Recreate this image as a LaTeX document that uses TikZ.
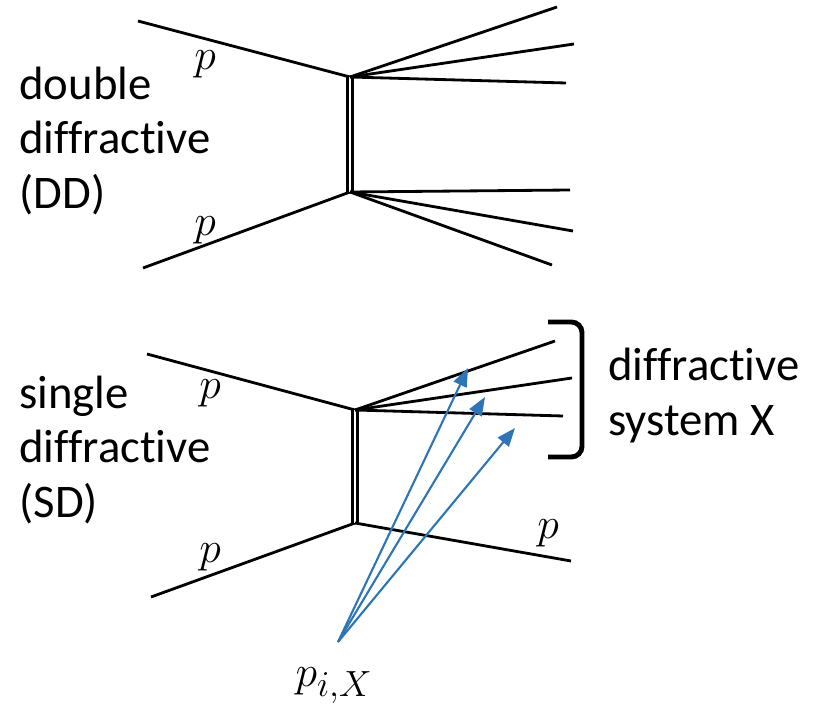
\documentclass[tikz,border=0pt]{standalone}
\usepackage{fontspec}
\setmainfont{Carlito}[Ligatures=NoCommon]
\usepackage{tikz}
\usetikzlibrary{arrows.meta}
\definecolor{momblue}{HTML}{2E75B6}

\begin{document}
\begin{tikzpicture}[x=0.02cm,y=-0.02cm,line width=1.6pt,
    lbl/.style={font=\fontsize{28}{32}\selectfont, inner sep=0pt},
    txt/.style={font=\fontsize{26.6}{31}\selectfont, align=left, inner sep=0pt, anchor=base west},
    pom/.style={double, double distance=1.7pt, line width=1.4pt},
    mom/.style={-{Triangle[length=10.5pt,width=8pt]}, draw=momblue, line width=1.2pt}]

  \useasboundingbox (0,0) rectangle (816,710);

  % double diffractive
  \coordinate (dtop) at (350,77);
  \coordinate (dbot) at (350,192);
  \coordinate (din1) at (138,21);
  \coordinate (din2) at (143,268);
  \coordinate (dx1) at (557,7);
  \coordinate (dx2) at (574,44);
  \coordinate (dx3) at (566,83);
  \coordinate (dy1) at (570,190);
  \coordinate (dy2) at (573,231);
  \coordinate (dy3) at (552,265);

  \draw (din1) -- (dtop);
  \draw (din2) -- (dbot);
  \draw[pom] (dtop) -- (dbot);
  \foreach \e in {dx1,dx2,dx3} \draw (dtop) -- (\e);
  \foreach \e in {dy1,dy2,dy3} \draw (dbot) -- (\e);

  \node[lbl] (dp1) at (205,64) {$p$};
  \node[lbl] (dp2) at (205,230) {$p$};
  \node[txt] (ddtext) at (18,208) {double\\diffractive\\(DD)};

  % single diffractive
  \coordinate (stop) at (355,410);
  \coordinate (sbot) at (355,523);
  \coordinate (sin1) at (147,354);
  \coordinate (sin2) at (151,597);
  \coordinate (sx1) at (555,341);
  \coordinate (sx2) at (572,378);
  \coordinate (sx3) at (563,416);
  \coordinate (sout) at (571,561);

  \draw (sin1) -- (stop);
  \draw (sin2) -- (sbot);
  \draw[pom] (stop) -- (sbot);
  \foreach \e in {sx1,sx2,sx3} \draw (stop) -- (\e);
  \draw (sbot) -- (sout);

  \node[lbl] (sp1) at (210,393) {$p$};
  \node[lbl] (sp2) at (210,557) {$p$};
  \node[lbl] (sp3) at (548,533) {$p$};
  \node[txt] (sdtext) at (18,517) {single\\diffractive\\(SD)};

  % system X
  \coordinate (bra1) at (548,322);
  \coordinate (bra2) at (548,457);
  \draw[line width=2.8pt, rounded corners=6pt] (bra1) -- (582,322) -- (582,457) -- (bra2);
  \node[txt] (xtext) at (607,435) {diffractive\\system X};

  % momenta
  \coordinate (m0) at (338,642);
  \coordinate (m1) at (468,368);
  \coordinate (m2) at (485,397);
  \coordinate (m3) at (515,428);
  \foreach \e in {m1,m2,m3} \draw[mom] (m0) -- (\e);
  \node[lbl, font=\fontsize{31}{36}\selectfont] (pix) at (334,686) {$p_{i,X}$};
\end{tikzpicture}
\end{document}
